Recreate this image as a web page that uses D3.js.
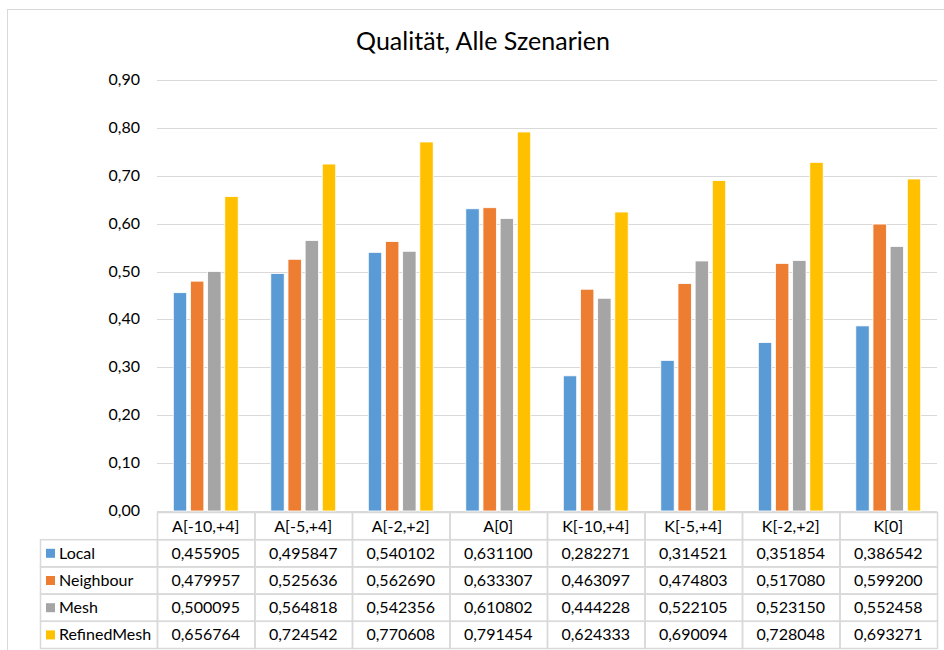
<!DOCTYPE html>
<html>
<head>
<meta charset="utf-8">
<script src="https://cdn.jsdelivr.net/npm/d3@7"></script>
<style>
  body { margin: 0; background: #fff; }
  svg { font-family: Lato, "Open Sans", sans-serif; }
</style>
</head>
<body>
<div id="chart"></div>
<script>
// Daten
const categories = ['A[-10,+4]', 'A[-5,+4]', 'A[-2,+2]', 'A[0]', 'K[-10,+4]', 'K[-5,+4]', 'K[-2,+2]', 'K[0]'];
const seriesNames = ['Local', 'Neighbour', 'Mesh', 'RefinedMesh'];
const localVals = [0.455905, 0.495847, 0.540102, 0.631100, 0.282271, 0.314521, 0.351854, 0.386542];
const neighbourVals = [0.479957, 0.525636, 0.562690, 0.633307, 0.463097, 0.474803, 0.517080, 0.599200];
const meshVals = [0.500095, 0.564818, 0.542356, 0.610802, 0.444228, 0.522105, 0.523150, 0.552458];
const refinedVals = [0.656764, 0.724542, 0.770608, 0.791454, 0.624333, 0.690094, 0.728048, 0.693271];
const yTicks = [0, 0.1, 0.2, 0.3, 0.4, 0.5, 0.6, 0.7, 0.8, 0.9];
const colors = ['#5B9BD5', '#ED7D31', '#A5A5A5', '#FFC000'];

const series = [localVals, neighbourVals, meshVals, refinedVals];

const W = 944, H = 650;
const plot = { left: 157, right: 937, top: 80, bottom: 511 };
const rowH = 27.2;

const svg = d3.select('#chart').append('svg')
    .attr('width', W).attr('height', H);

// Rahmen
svg.append('rect')
    .attr('x', 7.5).attr('y', 9.5)
    .attr('width', W).attr('height', H)
    .attr('fill', 'none').attr('stroke', '#d9d9d9');

// Titel
svg.append('text')
    .attr('x', 483).attr('y', 50)
    .attr('text-anchor', 'middle')
    .style('font-size', '25px').style('fill', '#000')
    .text('Qualität, Alle Szenarien');

const x = d3.scaleBand().domain(categories).range([plot.left, plot.right]).paddingInner(0).paddingOuter(0);
const y = d3.scaleLinear().domain([0, 0.9]).range([plot.bottom, plot.top]);
const xInner = d3.scaleBand().domain(seriesNames).range([0, x.bandwidth()]).paddingInner(0.22).paddingOuter(0.95);

const fmt = v => d3.format('.2f')(v).replace('.', ',');
const fmt6 = v => d3.format('.6f')(v).replace('.', ',');

// Gitterlinien
svg.append('g').selectAll('line')
    .data(yTicks).enter().append('line')
    .attr('x1', plot.left).attr('x2', plot.right)
    .attr('y1', d => Math.round(y(d)) + 0.5).attr('y2', d => Math.round(y(d)) + 0.5)
    .attr('stroke', '#d9d9d9').attr('stroke-width', 1);

// Y-Achse Beschriftung
svg.append('g').selectAll('text')
    .data(yTicks).enter().append('text')
    .attr('x', 140).attr('y', d => y(d) + 5)
    .attr('text-anchor', 'end')
    .style('font-size', '16px').style('fill', '#000')
    .text(fmt);

// Balken
const groups = svg.append('g').selectAll('g')
    .data(categories).enter().append('g')
    .attr('transform', d => `translate(${x(d)},0)`);

groups.selectAll('rect')
    .data((c, i) => seriesNames.map((s, j) => ({ s, j, v: series[j][i] })))
    .enter().append('rect')
    .attr('x', d => xInner(d.s))
    .attr('width', xInner.bandwidth())
    .attr('y', d => y(d.v))
    .attr('height', d => y(0) - y(d.v))
    .attr('fill', d => colors[d.j])
    .attr('stroke', '#fff').attr('stroke-width', 0.8);

// Datentabelle
const tbl = svg.append('g');
const tableLeft = 40;
const headTop = plot.bottom + 1;
const lineColor = '#d9d9d9';

// Kopfzeile
categories.forEach(c => {
    tbl.append('rect')
        .attr('x', x(c) + 0.5).attr('y', headTop + 0.5)
        .attr('width', x.bandwidth()).attr('height', rowH)
        .attr('fill', 'none').attr('stroke', lineColor).attr('stroke-width', 1.5);
    tbl.append('text')
        .attr('x', x(c) + x.bandwidth() / 2).attr('y', headTop + rowH / 2 + 6)
        .attr('text-anchor', 'middle')
        .style('font-size', '16px')
        .text(c);
});

seriesNames.forEach((s, j) => {
    const top = headTop + rowH * (j + 1);
    tbl.append('rect')
        .attr('x', tableLeft + 0.5).attr('y', top + 0.5)
        .attr('width', plot.left - tableLeft).attr('height', rowH)
        .attr('fill', 'none').attr('stroke', lineColor).attr('stroke-width', 1.5);
    tbl.append('rect')
        .attr('x', 46).attr('y', top + rowH / 2 - 4)
        .attr('width', 9).attr('height', 9)
        .attr('fill', colors[j]);
    tbl.append('text')
        .attr('x', 59).attr('y', top + rowH / 2 + 6)
        .style('font-size', '16px')
        .text(s);
    categories.forEach((c, i) => {
        tbl.append('rect')
            .attr('x', x(c) + 0.5).attr('y', top + 0.5)
            .attr('width', x.bandwidth()).attr('height', rowH)
            .attr('fill', 'none').attr('stroke', lineColor).attr('stroke-width', 1.5);
        tbl.append('text')
            .attr('x', x(c) + x.bandwidth() / 2).attr('y', top + rowH / 2 + 6)
            .attr('text-anchor', 'middle')
            .style('font-size', '16px')
            .text(fmt6(series[j][i]));
    });
});
</script>
</body>
</html>
